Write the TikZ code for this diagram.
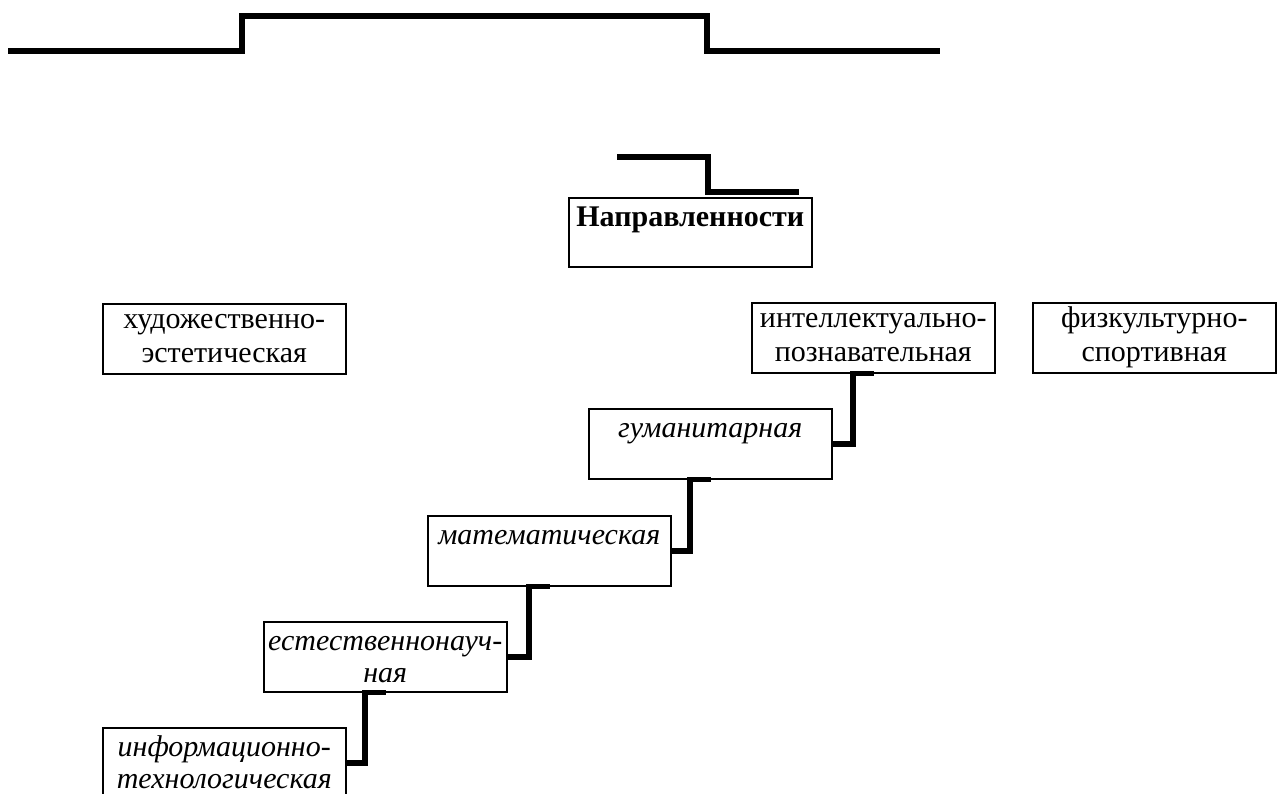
\documentclass[tikz,border=0pt]{standalone}
\usepackage{fontspec}
\setmainfont{Liberation Serif}
\usetikzlibrary{calc}
\tikzset{
  kasten/.style = {shape=rectangle, draw, line width=1.5pt,
                   anchor=north west, text width=243pt, align=center,
                   inner sep=0pt, text height=25pt, text depth=45pt,
                   font=\fontsize{30}{34}\selectfont},
  kursiv/.style = {kasten, text height=29pt, text depth=41pt,
                   font=\fontsize{30}{32}\selectfont\itshape},
  haupt/.style  = {kasten, text height=29pt, text depth=40pt,
                   font=\fontsize{30}{34}\selectfont\bfseries},
  linie/.style  = {line width=5.5pt},
  balken/.style = {line width=6pt}
}
\newcommand{\stufe}[2]{(#1.east) -| ($(#2.south west)+(102,0)$) -- ++(21,0)}

\begin{document}
\begin{tikzpicture}[x=1pt, y=-1pt]
  \useasboundingbox (0,0) rectangle (1279,793);
  % oberer Balken
  \draw[balken] (8,51) -- (242,51) -- (242,16) -- (707,16) -- (707,51) -- (940,51);

  \node[haupt]  (napr)  at (568,197) {Направленности};
  \node[kasten] (hud)   at (102,303) {художественно-\\эстетическая};
  \node[kasten] (intel) at (751,302) {интеллектуально-\\познавательная};
  \node[kasten] (fiz)   at (1032,302) {физкультурно-\\спортивная};
  \node[kursiv] (gum)   at (588,408) {гуманитарная};
  \node[kursiv] (mat)   at (427,515) {математическая};
  \node[kursiv] (est)   at (263,621) {естественнонауч-\\ная};
  \node[kursiv] (inf)   at (102,727) {информационно-\\технологическая};

  \coordinate (napr-a) at (617,157);
  \draw[linie] (napr-a) -| ($(napr.north west)+(140,-5)$) -- ($(napr.north east)+(-14,-5)$);

  \draw[linie] \stufe{gum}{intel};
  \draw[linie] \stufe{mat}{gum};
  \draw[linie] \stufe{est}{mat};
  \draw[linie] \stufe{inf}{est};
\end{tikzpicture}
\end{document}
